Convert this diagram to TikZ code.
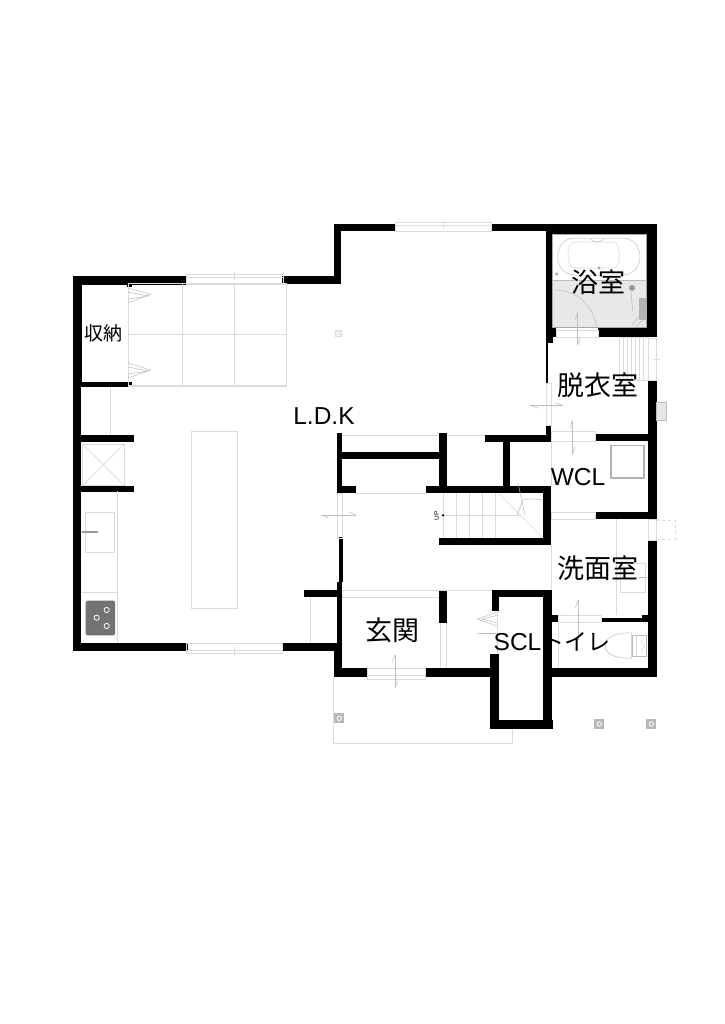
\documentclass[tikz,border=0pt]{standalone}
\usepackage{fontspec}
\setmainfont{Liberation Sans}
\newfontfamily\jpfont{Noto Sans CJK JP}
\tikzset{
  wall/.style={fill=black},
  fine/.style={draw=black!14,line width=0.6pt},
  faint/.style={draw=black!26,line width=0.5pt},
  pillar/.style={fill=black!28},
  roomjp/.style={font=\jpfont\fontsize{27}{30}\selectfont,inner sep=0pt},
  roomen/.style={font=\fontsize{24.5}{28}\selectfont,inner sep=0pt}
}
\begin{document}
\begin{tikzpicture}[x=1pt,y=-1pt]
\useasboundingbox (0,0) rectangle (724,1024);
\fill [white] (0,0) rectangle (724,1024);

% bath floor
\fill [black!9] (553,280) rectangle (647,328);

% outer walls
\fill [wall] (73,276) rectangle (187,285);
\fill [wall] (73,276) rectangle (81.5,382);
\fill [wall] (73,382) rectangle (80.7,651);
\fill [wall] (73,643.3) rectangle (187.7,651);
\fill [wall] (282,643.3) rectangle (342,651);
\fill [wall] (282,276) rectangle (341,284);
\fill [wall] (333.5,224) rectangle (341,284);
\fill [wall] (333.5,224) rectangle (395,231);
\fill [wall] (491,224) rectangle (656.7,231);
\fill [wall] (546,224) rectangle (656.7,234);
\fill [wall] (646.7,224) rectangle (656.7,337);
\fill [wall] (648,381) rectangle (656.7,519);
\fill [wall] (648,540) rectangle (656.7,677);
\fill [wall] (552,668) rectangle (656.7,677);
\fill [wall] (333.5,643.3) rectangle (342,677);
\fill [wall] (333.5,668) rectangle (367,677);
\fill [wall] (425,668) rectangle (491,677);

% storage and shaft
\fill [wall] (73,381.7) rectangle (132.3,387.3);
\fill [wall] (126.5,283) rectangle (132.3,287);
\fill [wall] (73,435) rectangle (134,441.7);
\fill [wall] (73,485.7) rectangle (134,491.7);

% bath and wash rooms
\fill [wall] (545.7,224) rectangle (552.7,343);
\fill [wall] (545.7,328) rectangle (556,337);
\fill [wall] (597.7,328) rectangle (656.7,337);
\fill [wall] (546.2,343) rectangle (548,383);
\fill [wall] (545.7,425) rectangle (551,441);
\fill [wall] (485,435) rectangle (551,441.7);
\fill [wall] (595.7,434) rectangle (653,441);
\fill [wall] (502.7,441) rectangle (510,490);
\fill [wall] (595.7,512.3) rectangle (656.7,519.3);

% stairs block
\fill [wall] (426,486) rectangle (551,493);
\fill [wall] (543,486) rectangle (551,545);
\fill [wall] (439,537.7) rectangle (551,545);
\fill [wall] (439,433) rectangle (446.7,493);
\fill [wall] (336.7,433) rectangle (342.3,493);
\fill [wall] (337,451.7) rectangle (442,459);
\fill [wall] (337,486) rectangle (355.7,493);
\fill [wall] (339,537) rectangle (342.7,582);
\fill [wall] (336.7,581.7) rectangle (342.3,645);
\fill [wall] (304,590) rectangle (340,597);

% entrance and closet
\fill [wall] (439,590) rectangle (446.7,623);
\fill [wall] (491.7,590) rectangle (499,610.7);
\fill [wall] (491.7,590) rectangle (551,597);
\fill [wall] (543,590) rectangle (551.5,729);
\fill [wall] (490,654) rectangle (499,729);
\fill [wall] (490,720) rectangle (552.7,729);

% toilet
\fill [wall] (551,615) rectangle (558.7,622);
\fill [wall] (601,618.3) rectangle (642,622.3);
\fill [wall] (641.7,615) rectangle (648,622.3);

% windows
\draw [fine] (186,274) rectangle (283,284);
\draw [fine] (186,277) -- (283,277);
\draw [fine] (234.5,272) -- (234.5,280);
\draw [fine] (395,222.5) rectangle (491,231);
\draw [fine] (395,225.5) -- (491,225.5);
\draw [fine] (443,221) -- (443,229);
\draw [fine] (186.7,643.5) rectangle (282,653);
\draw [fine] (186.7,650) -- (282,650);
\draw [fine] (234.5,647) -- (234.5,655);
\draw [fine] (648,338) rectangle (656.7,380);
\draw [fine] (653,359) -- (660,359);
\draw [fine] (648,519) rectangle (656.7,540);
\draw [fine,dashed] (656.7,520) rectangle (675,539);
\draw [faint,fill=black!10] (656.7,402) rectangle (666.7,420);

% tatami
\draw [fine] (128,283) rectangle (286.7,386.7);
\draw [fine] (128,385) -- (286.7,385);
\draw [fine] (182.3,283) -- (182.3,385);
\draw [fine] (234.3,283) -- (234.3,385);
\draw [fine] (128,334) -- (286.7,334);
\draw [faint] (128,288) -- (150.7,294.3) -- (128,302.7);
\draw [faint] (128,292) -- (148,296) -- (128,299);
\draw [faint] (128,363) -- (150.7,370) -- (128,378);
\draw [faint] (128,367) -- (148,371) -- (128,374);
\draw [fine] (335.7,330.3) rectangle (341.7,336.3);
\draw [fine] (335.7,330.3) -- (341.7,336.3) (335.7,336.3) -- (341.7,330.3);

% kitchen
\draw [fine] (191.7,431.7) rectangle (237.7,608.3);
\draw [fine] (110,387) -- (110,435);
\draw [fine] (82.7,444) rectangle (124.3,485.7);
\draw [fine] (82.7,444) -- (124.3,485.7) (82.7,485.7) -- (124.3,444);
\draw [fine] (117.3,491) -- (117.3,643);
\draw [fine] (81,592.3) -- (117.3,592.3);
\draw [fine] (85.7,512.3) rectangle (114.7,552.3);
\draw [black!40,line width=2pt] (81.7,531.7) -- (97.7,531.7);
\fill [black!55,rounded corners=1.5pt] (85.7,600.7) rectangle (115,635.3);
\draw [white,line width=0.8pt] (106.7,610) circle (2.6pt);
\draw [white,line width=0.8pt] (96.7,617.7) circle (2.6pt);
\draw [white,line width=0.8pt] (106.7,626) circle (2.6pt);

% hall and stairs
\draw [fine] (342,435) -- (439,435);
\draw [fine] (447,435) -- (485,435);
\draw [fine] (355,493) -- (426,493);
\draw [fine] (337,493) rectangle (342,538);
\draw [faint] (321.7,515) -- (356,515);
\draw [faint] (321.7,515) -- (329,518);
\draw [faint] (356,515) -- (349,512);
\draw [fine] (443.3,493) -- (443.3,538);
\draw [fine] (456.7,493) -- (456.7,538);
\draw [fine] (469.3,493) -- (469.3,538);
\draw [fine] (482.3,493) -- (482.3,538);
\draw [fine] (495.7,493) -- (495.7,538);
\draw [fine] (443,515) -- (520,515);
\draw [fine] (499,494) -- (543,537.7);
\draw [faint] (517,515) -- (523,500) .. controls (528,498) and (535,499) .. (543,500);
\draw [faint] (518,483) -- (525,515);
\fill [black] (443,515.3) circle (1.3pt);
\node at (436.7,516) [rotate=90,font=\fontsize{6.5}{7}\selectfont,inner sep=0pt] (uplabel) {UP};
\draw [fine] (310,597) -- (310,643);
\draw [fine] (342,590) -- (491,590);
\draw [fine] (342,597) -- (439,597);
\draw [fine] (440,623) -- (440,668);
\draw [fine] (446.7,623) -- (446.7,668);

% entrance
\draw [fine] (367,668) rectangle (425,679);
\draw [fine] (367,675) -- (425,675);
\draw [faint] (395,655) -- (395,688);
\draw [faint] (395,655) -- (392,663);
\draw [faint] (395,688) -- (398,681);
\draw [fine] (333.5,677) -- (333.5,743.3) -- (512.3,743.3) -- (512.3,729);
\draw [faint] (496.7,612.3) -- (477.3,619.3) -- (496.7,625.7);
\draw [faint] (496.7,615.3) -- (482,619.3) -- (496.7,622.7);
\draw [faint] (478,633) -- (497,633);
\draw [fine] (497,610.7) -- (497,654);
\fill [pillar] (334.3,713.3) rectangle (344.3,723.3);
\fill [pillar] (594.3,719) rectangle (604.3,729);
\fill [pillar] (646.3,719) rectangle (656.3,729);
\draw [white,line width=0.8pt] (339.3,718.3) circle (2.2pt);
\draw [white,line width=0.8pt] (599.3,724) circle (2.2pt);
\draw [white,line width=0.8pt] (651.3,724) circle (2.2pt);

% bath
\draw [black!35,line width=0.8pt] (552.7,234) rectangle (646.7,327.7);
\draw [faint] (552.7,280) -- (646.7,280);
\draw [faint] (575,238) .. controls (552,238) and (552,275) .. (575,275) -- (622,275) .. controls (646,275) and (646,238) .. (622,238) -- cycle;
\draw [fine] (574,242) .. controls (566,242) and (566,268) .. (574,268) -- (614,268) .. controls (621,268) and (621,242) .. (614,242) -- cycle;
\draw [faint] (590,239) .. controls (594,243) and (600,243) .. (604,239);
\fill [black!35] (556.7,274) circle (1.7pt);
\fill [black!35] (599,268) circle (1.7pt);
\draw [faint] (555,290) .. controls (575,290) and (593,303) .. (597,328);
\fill [black!40] (632,288) circle (3pt);
\fill [black!30] (638.5,298) rectangle (646.5,320);
\draw [faint] (632,325) -- (642,312);
\draw [faint] (636,327) -- (646,316);
\draw [faint] (632,290) .. controls (630,300) and (634,308) .. (632,312);
\draw [fine] (556,330) rectangle (598,337);
\draw [faint] (577.7,312) -- (577.7,345);
\draw [faint] (577.7,312) -- (575,320);
\draw [faint] (577.7,345) -- (580,337);

% dressing room
\draw [fine] (619.3,337) rectangle (648,380);
\draw [fine] (623,337) -- (623,380);
\draw [fine] (627,337) -- (627,380);
\draw [fine] (631,337) -- (631,380);
\draw [fine] (635,337) -- (635,380);
\draw [fine] (639,337) -- (639,380);
\draw [fine] (643,337) -- (643,380);
\draw [fine] (546,383) rectangle (551,425);
\draw [faint] (530,405.5) -- (563,405.5);
\draw [faint] (530,405.5) -- (538,408);
\draw [faint] (563,405.5) -- (555,403);

% wcl
\draw [fine] (551,431.7) rectangle (595.7,441);
\draw [faint] (572.3,420.7) -- (572.3,455);
\draw [faint] (572.3,420.7) -- (570,428);
\draw [faint] (572.3,455) -- (575,447);
\draw [black!30,line width=1.6pt] (611,445.5) rectangle (644,478);
\draw [fine] (551,441) -- (551,486);
\draw [fine] (551,512.3) rectangle (595.7,519.3);

% wash room and toilet
\draw [fine] (616.7,519) -- (616.7,615);
\draw [fine] (620,563) rectangle (645,592.3);
\draw [faint] (638,577.7) -- (647,577.7);
\draw [fine] (551.7,545) -- (551.7,590);
\draw [fine] (558.7,615) rectangle (601,622);
\draw [faint] (578,600) -- (578,640);
\draw [faint] (578,600) -- (575.5,608);
\draw [faint] (578,640) -- (580.5,632);
\draw [fine] (558.7,622) -- (558.7,668);
\draw [faint] (631.7,633) .. controls (612,632) and (605,640) .. (605,645.5) .. controls (605,652) and (612,659) .. (631.7,658) -- cycle;
\draw [faint] (632.7,635) rectangle (646,656);
\draw [fine] (636,635) -- (636,656);
\draw [fine] (641,640) -- (644,646) -- (641,652);

% room names
\node at (598,282) [roomjp] (bathroom) {浴室};
\node at (598,385) [roomjp] (dressing) {脱衣室};
\node at (598,568) [roomjp] (washroom) {洗面室};
\node at (392,630) [roomjp] (genkan) {玄関};
\node at (103.5,333) [roomjp,font=\jpfont\fontsize{19}{20}\selectfont] (storage) {収納};
\node at (576,642) [roomjp,font=\jpfont\fontsize{23}{25}\selectfont] (toilet) {トイレ};
\node at (324,416) [roomen] (ldk) {L.D.K};
\node at (578,477) [roomen] (wcl) {WCL};
\node at (517.5,642) [roomen] (scl) {SCL};
\end{tikzpicture}
\end{document}
